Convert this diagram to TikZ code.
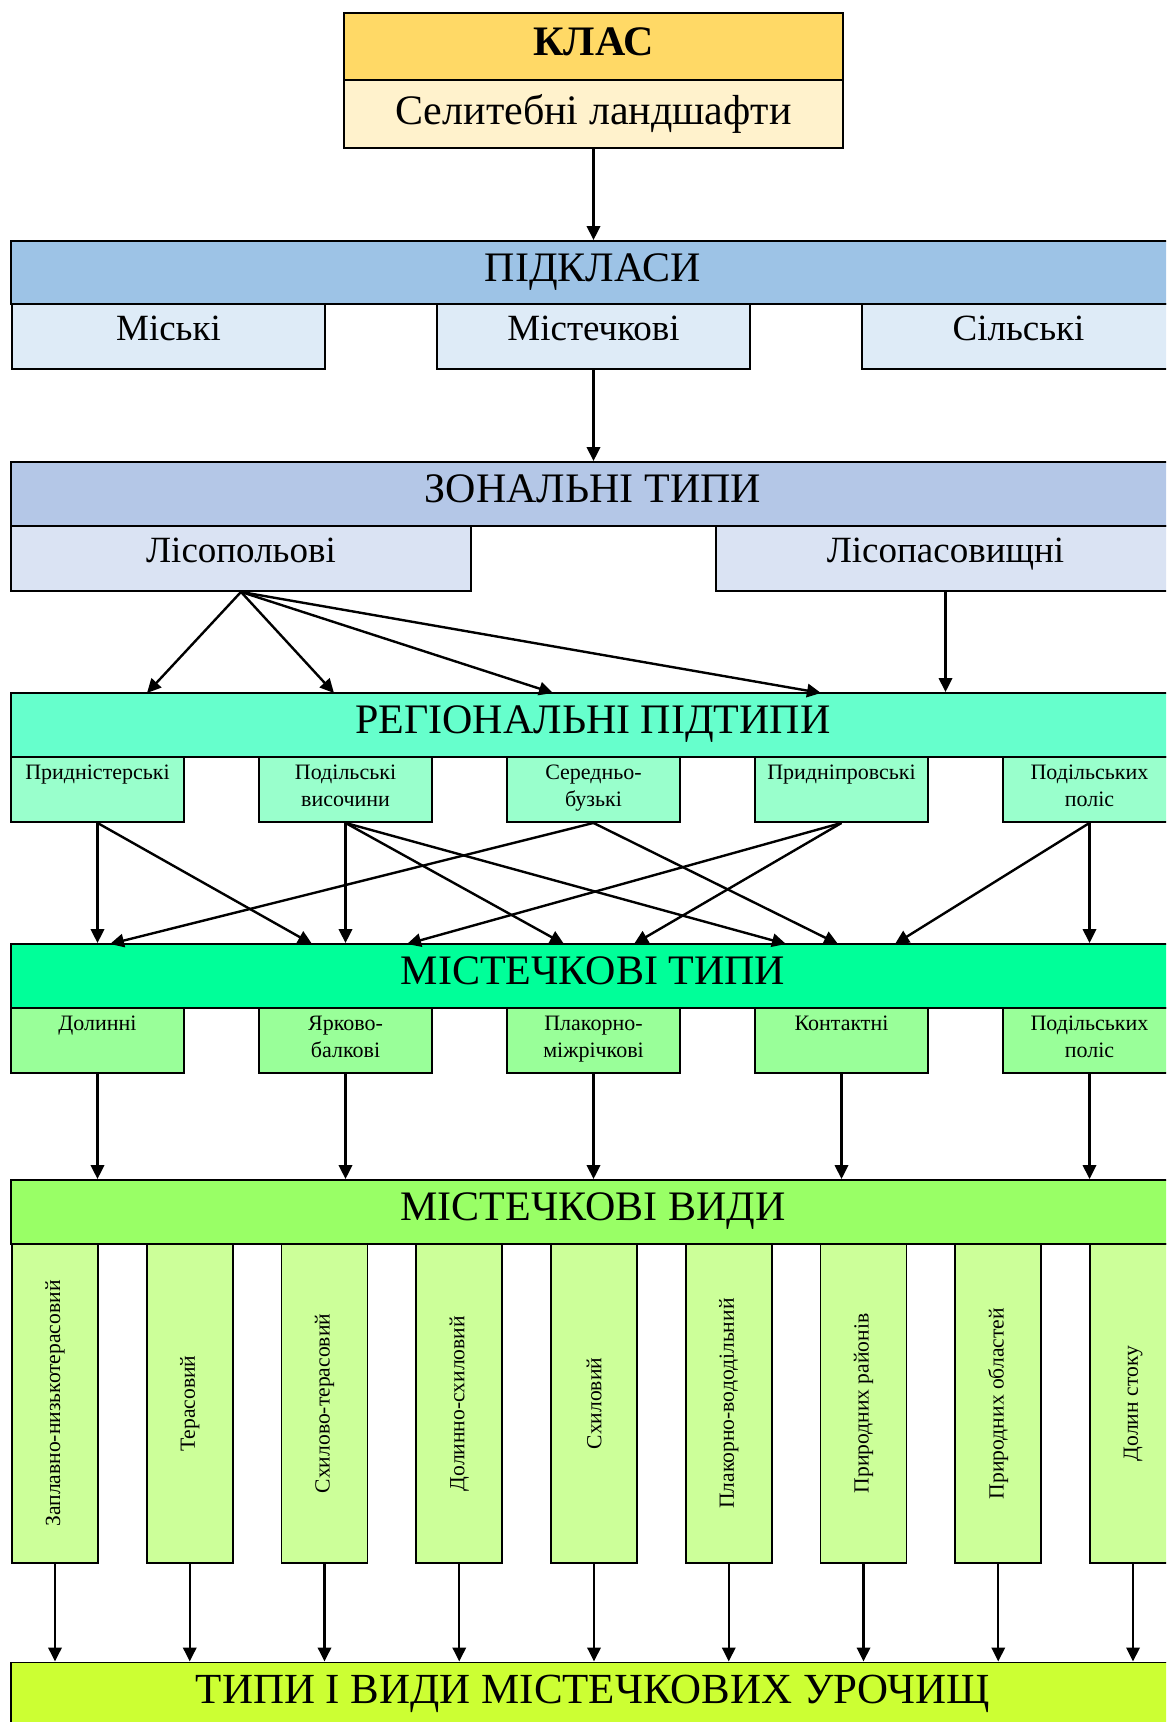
\documentclass[tikz,border=0pt]{standalone}
\usepackage{fontspec}
\setmainfont{Liberation Serif}
\usetikzlibrary{arrows.meta}
\definecolor{cKlasH}{HTML}{FFD966}
\definecolor{cKlasB}{HTML}{FFF2CC}
\definecolor{cPidH}{HTML}{9DC3E6}
\definecolor{cPidS}{HTML}{DEEBF7}
\definecolor{cZonH}{HTML}{B4C7E7}
\definecolor{cZonS}{HTML}{DAE3F3}
\definecolor{cRegH}{HTML}{66FFCC}
\definecolor{cRegS}{HTML}{99FFCC}
\definecolor{cTypH}{HTML}{00FF99}
\definecolor{cTypS}{HTML}{99FF99}
\definecolor{cVydH}{HTML}{99FF66}
\definecolor{cVydS}{HTML}{CCFF99}
\definecolor{cBot}{HTML}{CCFF33}
\newcommand{\lowend}{\rule[-6pt]{0pt}{6pt}}
\begin{document}
\begin{tikzpicture}[x=0.75pt,y=-0.75pt,
  box/.style={draw=black, line width=1.4pt, inner sep=0pt, align=center},
  bigtxt/.style={font=\fontsize{31.5}{36}\selectfont, text depth=7.5pt},
  midtxt/.style={font=\fontsize{27.75}{32}\selectfont, text depth=12pt},
  smalltxt/.style={font=\fontsize{16.5}{20.25}\selectfont},
  vtxt/.style={font=\fontsize{16.2}{19}\selectfont},
  header/.style={box, bigtxt, minimum width=873pt},
  regsub/.style={box, smalltxt, minimum width=129.75pt, minimum height=48.75pt},
  vsub/.style={box, vtxt, fill=cVydS, minimum width=64.5pt, minimum height=239.25pt},
  arr/.style={line width=1.8pt, -{Triangle[length=10.5pt,width=10pt]}},
]
\useasboundingbox (0,0) rectangle (1166,1722);
\clip (0,0) rectangle (1166,1722);
\fill[white] (0,0) rectangle (1166,1722);

% KLAS
\node[box, fill=cKlasH, minimum width=374.25pt, minimum height=50.25pt,
      font=\fontsize{31.5}{36}\selectfont\bfseries, text depth=7.5pt] (klash) at (593.5,46.5) {КЛАС};
\node[box, bigtxt, fill=cKlasB, minimum width=374.25pt, minimum height=51pt] (klasb) at (593.5,114) {Селитебні ландшафти};

% PIDKLASY
\node[header, fill=cPidH, minimum height=47.25pt] (pidk) at (593,272.5) {ПІДКЛАСИ};
\node[box, midtxt, fill=cPidS, minimum width=234.75pt, minimum height=48.75pt] (ps1) at (168.5,336.5) {Міські};
\node[box, midtxt, fill=cPidS, minimum width=234.75pt, minimum height=48.75pt] (ps2) at (593.5,336.5) {Містечкові};
\node[box, midtxt, fill=cPidS, minimum width=234.75pt, minimum height=48.75pt] (ps3) at (1018.5,336.5) {Сільські};

% ZONALNI
\node[header, fill=cZonH, minimum height=48pt] (zon) at (593,494) {ЗОНАЛЬНІ ТИПИ};
\node[box, midtxt, fill=cZonS, minimum width=345pt, minimum height=48.75pt] (zl) at (241,558.5) {Лісопольові};
\node[box, midtxt, fill=cZonS, minimum width=344.25pt, minimum height=48.75pt] (zp) at (945.5,558.5) {Лісопасовищні};

% REGIONALNI
\node[header, fill=cRegH, minimum height=48pt] (reg) at (593,725) {РЕГІОНАЛЬНІ ПІДТИПИ};
\node[regsub, fill=cRegS] (r1) at (97.5,789.5) {Придністерські\\\lowend};
\node[regsub, fill=cRegS] (r2) at (345.5,789.5) {Подільські\\височини\lowend};
\node[regsub, fill=cRegS] (r3) at (593.5,789.5) {Середньо-\\бузькі\lowend};
\node[regsub, fill=cRegS] (r4) at (841.5,789.5) {Придніпровські\\\lowend};
\node[regsub, fill=cRegS] (r5) at (1089.5,789.5) {Подільських\\поліс\lowend};

% TYPY
\node[header, fill=cTypH, minimum height=48pt] (typ) at (593,976) {МІСТЕЧКОВІ ТИПИ};
\node[regsub, fill=cTypS] (t1) at (97.5,1040.5) {Долинні\\\lowend};
\node[regsub, fill=cTypS] (t2) at (345.5,1040.5) {Ярково-\\балкові\lowend};
\node[regsub, fill=cTypS] (t3) at (593.5,1040.5) {Плакорно-\\міжрічкові\lowend};
\node[regsub, fill=cTypS] (t4) at (841.5,1040.5) {Контактні\\\lowend};
\node[regsub, fill=cTypS] (t5) at (1089.5,1040.5) {Подільських\\поліс\lowend};

% VYDY
\node[header, fill=cVydH, minimum height=48pt] (vyd) at (593,1212) {МІСТЕЧКОВІ ВИДИ};
\node[vsub] (v1) at (55,1403.5) {\rotatebox{90}{Заплавно-низькотерасовий}};
\node[vsub] (v2) at (189.75,1403.5) {\rotatebox{90}{Терасовий}};
\node[vsub] (v3) at (324.5,1403.5) {\rotatebox{90}{Схилово-терасовий}};
\node[vsub] (v4) at (459.25,1403.5) {\rotatebox{90}{Долинно-схиловий}};
\node[vsub] (v5) at (594,1403.5) {\rotatebox{90}{Схиловий}};
\node[vsub] (v6) at (728.75,1403.5) {\rotatebox{90}{Плакорно-вододільний}};
\node[vsub] (v7) at (863.5,1403.5) {\rotatebox{90}{Природних районів}};
\node[vsub] (v8) at (998.25,1403.5) {\rotatebox{90}{Природних областей}};
\node[vsub] (v9) at (1133,1403.5) {\rotatebox{90}{Долин стоку}};

% BOTTOM
\node[box, fill=cBot, minimum width=873pt, minimum height=75pt, anchor=north] (bot) at (593,1661.5) {};
\node[font=\fontsize{32.2}{36}\selectfont, text depth=7.5pt] (bottxt) at (593,1694) {ТИПИ І ВИДИ МІСТЕЧКОВИХ УРОЧИЩ};

% target coordinates
\coordinate (g1) at (147,693);
\coordinate (g2) at (334,693);
\coordinate (g3) at (553,693);
\coordinate (g4) at (821,693);
\coordinate (a1) at (312,944);
\coordinate (a2) at (564,944);
\coordinate (a3) at (786,944);
\coordinate (a4) at (110,944);
\coordinate (a5) at (838,944);
\coordinate (a6) at (407,944);
\coordinate (a7) at (634,944);
\coordinate (a8) at (895,944);

% arrows
\draw[arr] (klasb.south) -- (klasb.south |- pidk.north);
\draw[arr] (ps2.south) -- (ps2.south |- zon.north);
\foreach \g in {g1,g2,g3,g4} \draw[arr] (zl.south) -- (\g);
\draw[arr] (zp.south) -- (zp.south |- reg.north);

\draw[arr] (r1.south) -- (r1.south |- typ.north);
\draw[arr] (r1.south) -- (a1);
\draw[arr] (r2.south) -- (r2.south |- typ.north);
\draw[arr] (r2.south) -- (a2);
\draw[arr] (r2.south) -- (a3);
\draw[arr] (r3.south) -- (a4);
\draw[arr] (r3.south) -- (a5);
\draw[arr] (r4.south) -- (a6);
\draw[arr] (r4.south) -- (a7);
\draw[arr] (r5.south) -- (a8);
\draw[arr] (r5.south) -- (r5.south |- typ.north);

\foreach \t in {t1,t2,t3,t4,t5} \draw[arr] (\t.south) -- (\t.south |- vyd.north);
\foreach \v in {v1,v2,v3,v4,v5,v6,v7,v8,v9} \draw[arr] (\v.south) -- (\v.south |- bot.north);
\end{tikzpicture}
\end{document}
